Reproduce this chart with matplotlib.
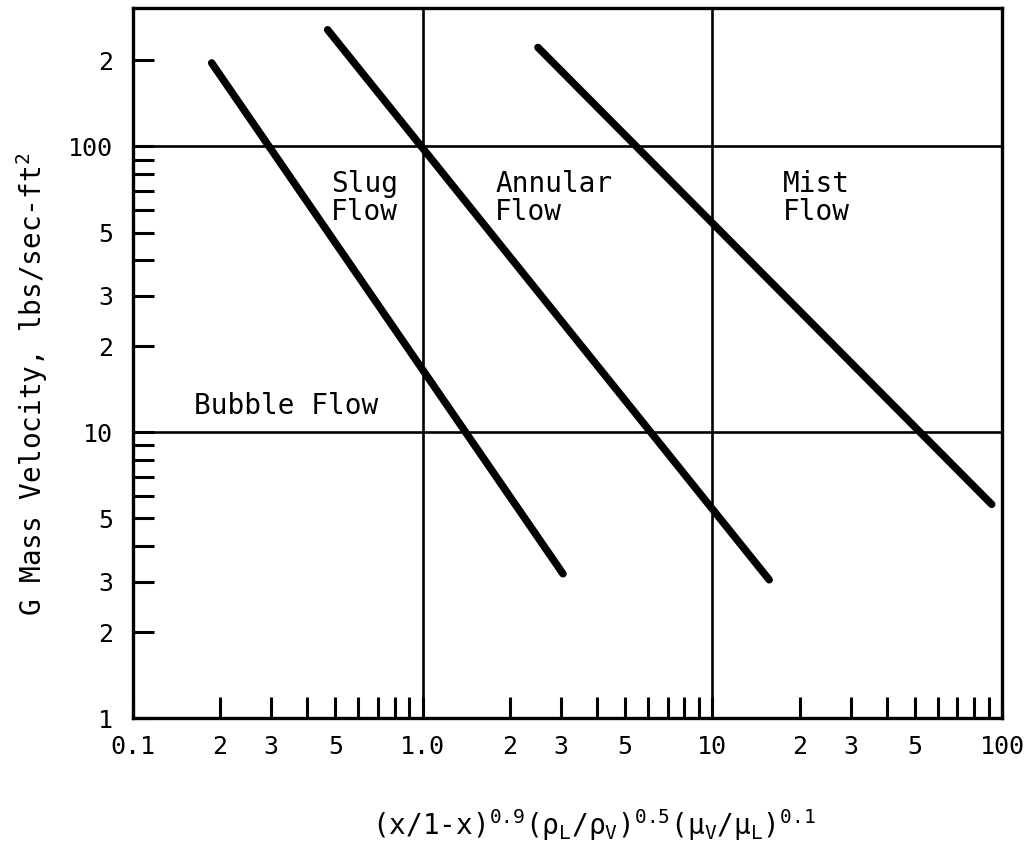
import numpy as np
import matplotlib
matplotlib.use('Agg')
import matplotlib.pyplot as plt

# flow regime boundaries, log-log straight lines
slug_x = [0.187, 3.05]
slug_y = [196, 3.2]
annular_x = [0.47, 15.7]
annular_y = [256, 3.05]
mist_x = [2.5, 92]
mist_y = [222, 5.6]

# tick positions and their printed labels
xtick_vals = [0.1, 0.2, 0.3, 0.4, 0.5, 0.6, 0.7, 0.8, 0.9,
              1, 2, 3, 4, 5, 6, 7, 8, 9,
              10, 20, 30, 40, 50, 60, 70, 80, 90, 100]
xtick_text = ['0.1', '2', '3', '', '5', '', '', '', '',
              '1.0', '2', '3', '', '5', '', '', '', '',
              '10', '2', '3', '', '5', '', '', '', '', '100']
ytick_vals = [1, 2, 3, 4, 5, 6, 7, 8, 9,
              10, 20, 30, 40, 50, 60, 70, 80, 90,
              100, 200]
ytick_text = ['1', '2', '3', '', '5', '', '', '', '',
              '10', '2', '3', '', '5', '', '', '', '',
              '100', '2']

# regime names
regions = ['Slug\nFlow', 'Annular\nFlow', 'Mist\nFlow', 'Bubble Flow']
region_x = [0.63, 1.78, 22.8, 0.162]
region_y = [66, 66, 66, 12.4]
region_ha = ['center', 'left', 'center', 'left']

mono = 'DejaVu Sans Mono'
plt.rcParams['font.family'] = mono
plt.rcParams['mathtext.fontset'] = 'custom'
plt.rcParams['mathtext.rm'] = mono
plt.rcParams['mathtext.it'] = mono

fig = plt.figure(figsize=(10.3, 8.43), dpi=100)
ax = fig.add_axes([0.129, 0.148, 0.844, 0.8425])
ax.set_xscale('log')
ax.set_yscale('log')
ax.set_xlim(0.1, 100)
ax.set_ylim(1, 305)

for xs, ys in [(slug_x, slug_y), (annular_x, annular_y), (mist_x, mist_y)]:
    ax.plot(xs, ys, color='black', lw=5.4, solid_capstyle='round', zorder=3)

# decade lines
for xv in [1, 10]:
    ax.axvline(xv, color='black', lw=1.9, zorder=2)
for yv in [10, 100]:
    ax.axhline(yv, color='black', lw=1.9, zorder=2)

for s, xv, yv, ha in zip(regions, region_x, region_y, region_ha):
    ax.text(xv, yv, s, ha=ha, va='center', fontsize=20, linespacing=1.0)

ax.xaxis.set_major_locator(matplotlib.ticker.FixedLocator(xtick_vals))
ax.xaxis.set_major_formatter(matplotlib.ticker.FixedFormatter(xtick_text))
ax.xaxis.set_minor_locator(matplotlib.ticker.NullLocator())
ax.yaxis.set_major_locator(matplotlib.ticker.FixedLocator(ytick_vals))
ax.yaxis.set_major_formatter(matplotlib.ticker.FixedFormatter(ytick_text))
ax.yaxis.set_minor_locator(matplotlib.ticker.NullLocator())

ax.tick_params(axis='both', direction='in', length=15, width=2.2, labelsize=18)
ax.tick_params(axis='x', pad=12)
ax.tick_params(axis='y', pad=14)

for sp in ax.spines.values():
    sp.set_linewidth(2.4)

ax.set_ylabel('G Mass Velocity, lbs/sec-ft$^2$', fontsize=20)
ax.yaxis.set_label_coords(-0.095, 0.47)
ax.set_xlabel(r'(x/1-x)$^{0.9}$(ρ$_{L}$/ρ$_{V}$)$^{0.5}$(μ$_{V}$/μ$_{L}$)$^{0.1}$', fontsize=20)
ax.xaxis.set_label_coords(0.53, -0.125)

plt.savefig('out.png', dpi=100)
